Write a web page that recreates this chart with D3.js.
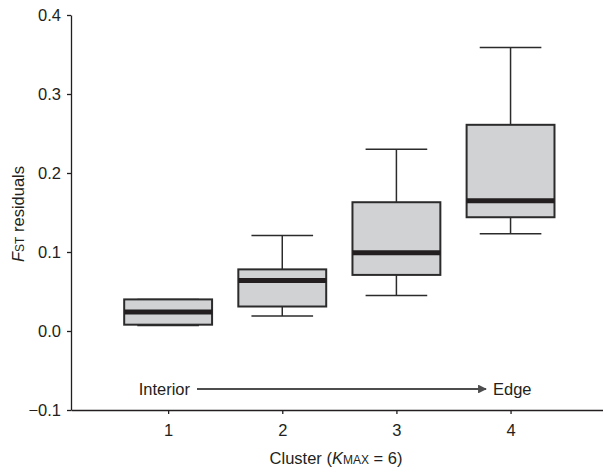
<!DOCTYPE html>
<html>
<head>
<meta charset="utf-8">
<script src="https://cdn.jsdelivr.net/npm/d3@7"></script>
<style>
  body { margin: 0; background: #fff; }
  text { font-family: "Liberation Sans", Arial, sans-serif; fill: #231f20; }
</style>
</head>
<body>
<script>
const W = 603;
const H = 467;
const MARGIN = { top: 15, right: 0, bottom: 57, left: 71 };
const FS = "16.5px";
const FS_SMALL = "12px";

// data
const clusters = [1, 2, 3, 4];
const mins = [0.007, 0.019, 0.045, 0.123];
const q1s = [0.008, 0.031, 0.071, 0.144];
const medians = [0.024, 0.064, 0.099, 0.165];
const q3s = [0.040, 0.078, 0.163, 0.261];
const maxs = [0.040, 0.121, 0.230, 0.359];
const yTicks = [-0.1, 0.0, 0.1, 0.2, 0.3, 0.4];

const boxes = clusters.map((c, i) => ({
  c, min: mins[i], q1: q1s[i], med: medians[i], q3: q3s[i], max: maxs[i]
}));

const svg = d3.select("body").append("svg")
  .attr("width", W)
  .attr("height", H);

const x = d3.scaleLinear()
  .domain([0.149, 4.81])
  .range([MARGIN.left, W]);

const y = d3.scaleLinear()
  .domain([-0.1, 0.4])
  .range([H - MARGIN.bottom, MARGIN.top]);

const fmt = d => (d < 0 ? "\u2212" + Math.abs(d).toFixed(1) : d.toFixed(1));

// y axis
const yAxis = svg.append("g")
  .attr("transform", "translate(" + MARGIN.left + ",0)")
  .call(d3.axisLeft(y).tickValues(yTicks).tickFormat(fmt).tickSize(4).tickSizeOuter(0).tickPadding(6));
yAxis.select(".domain").attr("stroke", "#231f20").attr("stroke-width", 1.3);
yAxis.selectAll(".tick line").attr("stroke", "#231f20").attr("stroke-width", 1.3);
yAxis.selectAll("text").style("font-size", FS).attr("fill", "#231f20");

// x axis
const xAxis = svg.append("g")
  .attr("transform", "translate(0," + y(-0.1) + ")")
  .call(d3.axisBottom(x).tickValues(clusters).tickFormat(d3.format("d")).tickSize(4).tickSizeOuter(0).tickPadding(10));
xAxis.select(".domain").attr("stroke", "#231f20").attr("stroke-width", 1.3);
xAxis.selectAll(".tick line").attr("stroke", "#231f20").attr("stroke-width", 1.3);
xAxis.selectAll("text").style("font-size", FS).attr("fill", "#231f20");

const boxW = x(1.385) - x(1);
const capW = x(1.27) - x(1);
const ink = "#2b2b2b";

const g = svg.append("g");

// whiskers
g.selectAll(".whisker")
  .data(boxes)
  .enter().append("line")
  .attr("x1", d => x(d.c))
  .attr("x2", d => x(d.c))
  .attr("y1", d => y(d.max))
  .attr("y2", d => y(d.min))
  .attr("stroke", ink)
  .attr("stroke-width", 1.5);

g.selectAll(".capTop")
  .data(boxes)
  .enter().append("line")
  .attr("x1", d => x(d.c) - capW)
  .attr("x2", d => x(d.c) + capW)
  .attr("y1", d => y(d.max))
  .attr("y2", d => y(d.max))
  .attr("stroke", ink)
  .attr("stroke-width", 1.5);

g.selectAll(".capBot")
  .data(boxes)
  .enter().append("line")
  .attr("x1", d => x(d.c) - capW)
  .attr("x2", d => x(d.c) + capW)
  .attr("y1", d => y(d.min))
  .attr("y2", d => y(d.min))
  .attr("stroke", ink)
  .attr("stroke-width", 1.5);

// boxes
g.selectAll(".box")
  .data(boxes)
  .enter().append("rect")
  .attr("x", d => x(d.c) - boxW)
  .attr("width", boxW * 2)
  .attr("y", d => y(d.q3))
  .attr("height", d => y(d.q1) - y(d.q3))
  .attr("fill", "#d1d2d4")
  .attr("stroke", ink)
  .attr("stroke-width", 2);

// medians
g.selectAll(".median")
  .data(boxes)
  .enter().append("line")
  .attr("x1", d => x(d.c) - boxW)
  .attr("x2", d => x(d.c) + boxW)
  .attr("y1", d => y(d.med))
  .attr("y2", d => y(d.med))
  .attr("stroke", "#231f20")
  .attr("stroke-width", 5);

// interior -> edge arrow
const arrowY = 389;
svg.append("defs").append("marker")
  .attr("id", "arrow")
  .attr("viewBox", "0 0 10 10")
  .attr("refX", 9)
  .attr("refY", 5)
  .attr("markerWidth", 4)
  .attr("markerHeight", 4)
  .attr("orient", "auto")
  .append("path")
  .attr("d", "M0,0 L10,5 L0,10 z")
  .attr("fill", "#4d4d4d");

svg.append("text")
  .attr("x", 190)
  .attr("y", arrowY + 6)
  .attr("text-anchor", "end")
  .style("font-size", FS)
  .text("Interior");

svg.append("line")
  .attr("x1", 197)
  .attr("x2", 486)
  .attr("y1", arrowY)
  .attr("y2", arrowY)
  .attr("stroke", "#4d4d4d")
  .attr("stroke-width", 2.2)
  .attr("marker-end", "url(#arrow)");

svg.append("text")
  .attr("x", 493)
  .attr("y", arrowY + 6)
  .style("font-size", FS)
  .text("Edge");

// axis titles
const xt = svg.append("text")
  .attr("x", 336)
  .attr("y", 464)
  .attr("text-anchor", "middle")
  .style("font-size", FS);
xt.append("tspan").text("Cluster (");
xt.append("tspan").style("font-style", "italic").text("K");
xt.append("tspan").style("font-size", FS_SMALL).text("MAX");
xt.append("tspan").text(" = 6)");

const yt = svg.append("text")
  .attr("transform", "translate(24,214) rotate(-90)")
  .attr("text-anchor", "middle")
  .style("font-size", FS);
yt.append("tspan").style("font-style", "italic").text("F");
yt.append("tspan").style("font-size", FS_SMALL).text("ST");
yt.append("tspan").text(" residuals");
</script>
</body>
</html>
